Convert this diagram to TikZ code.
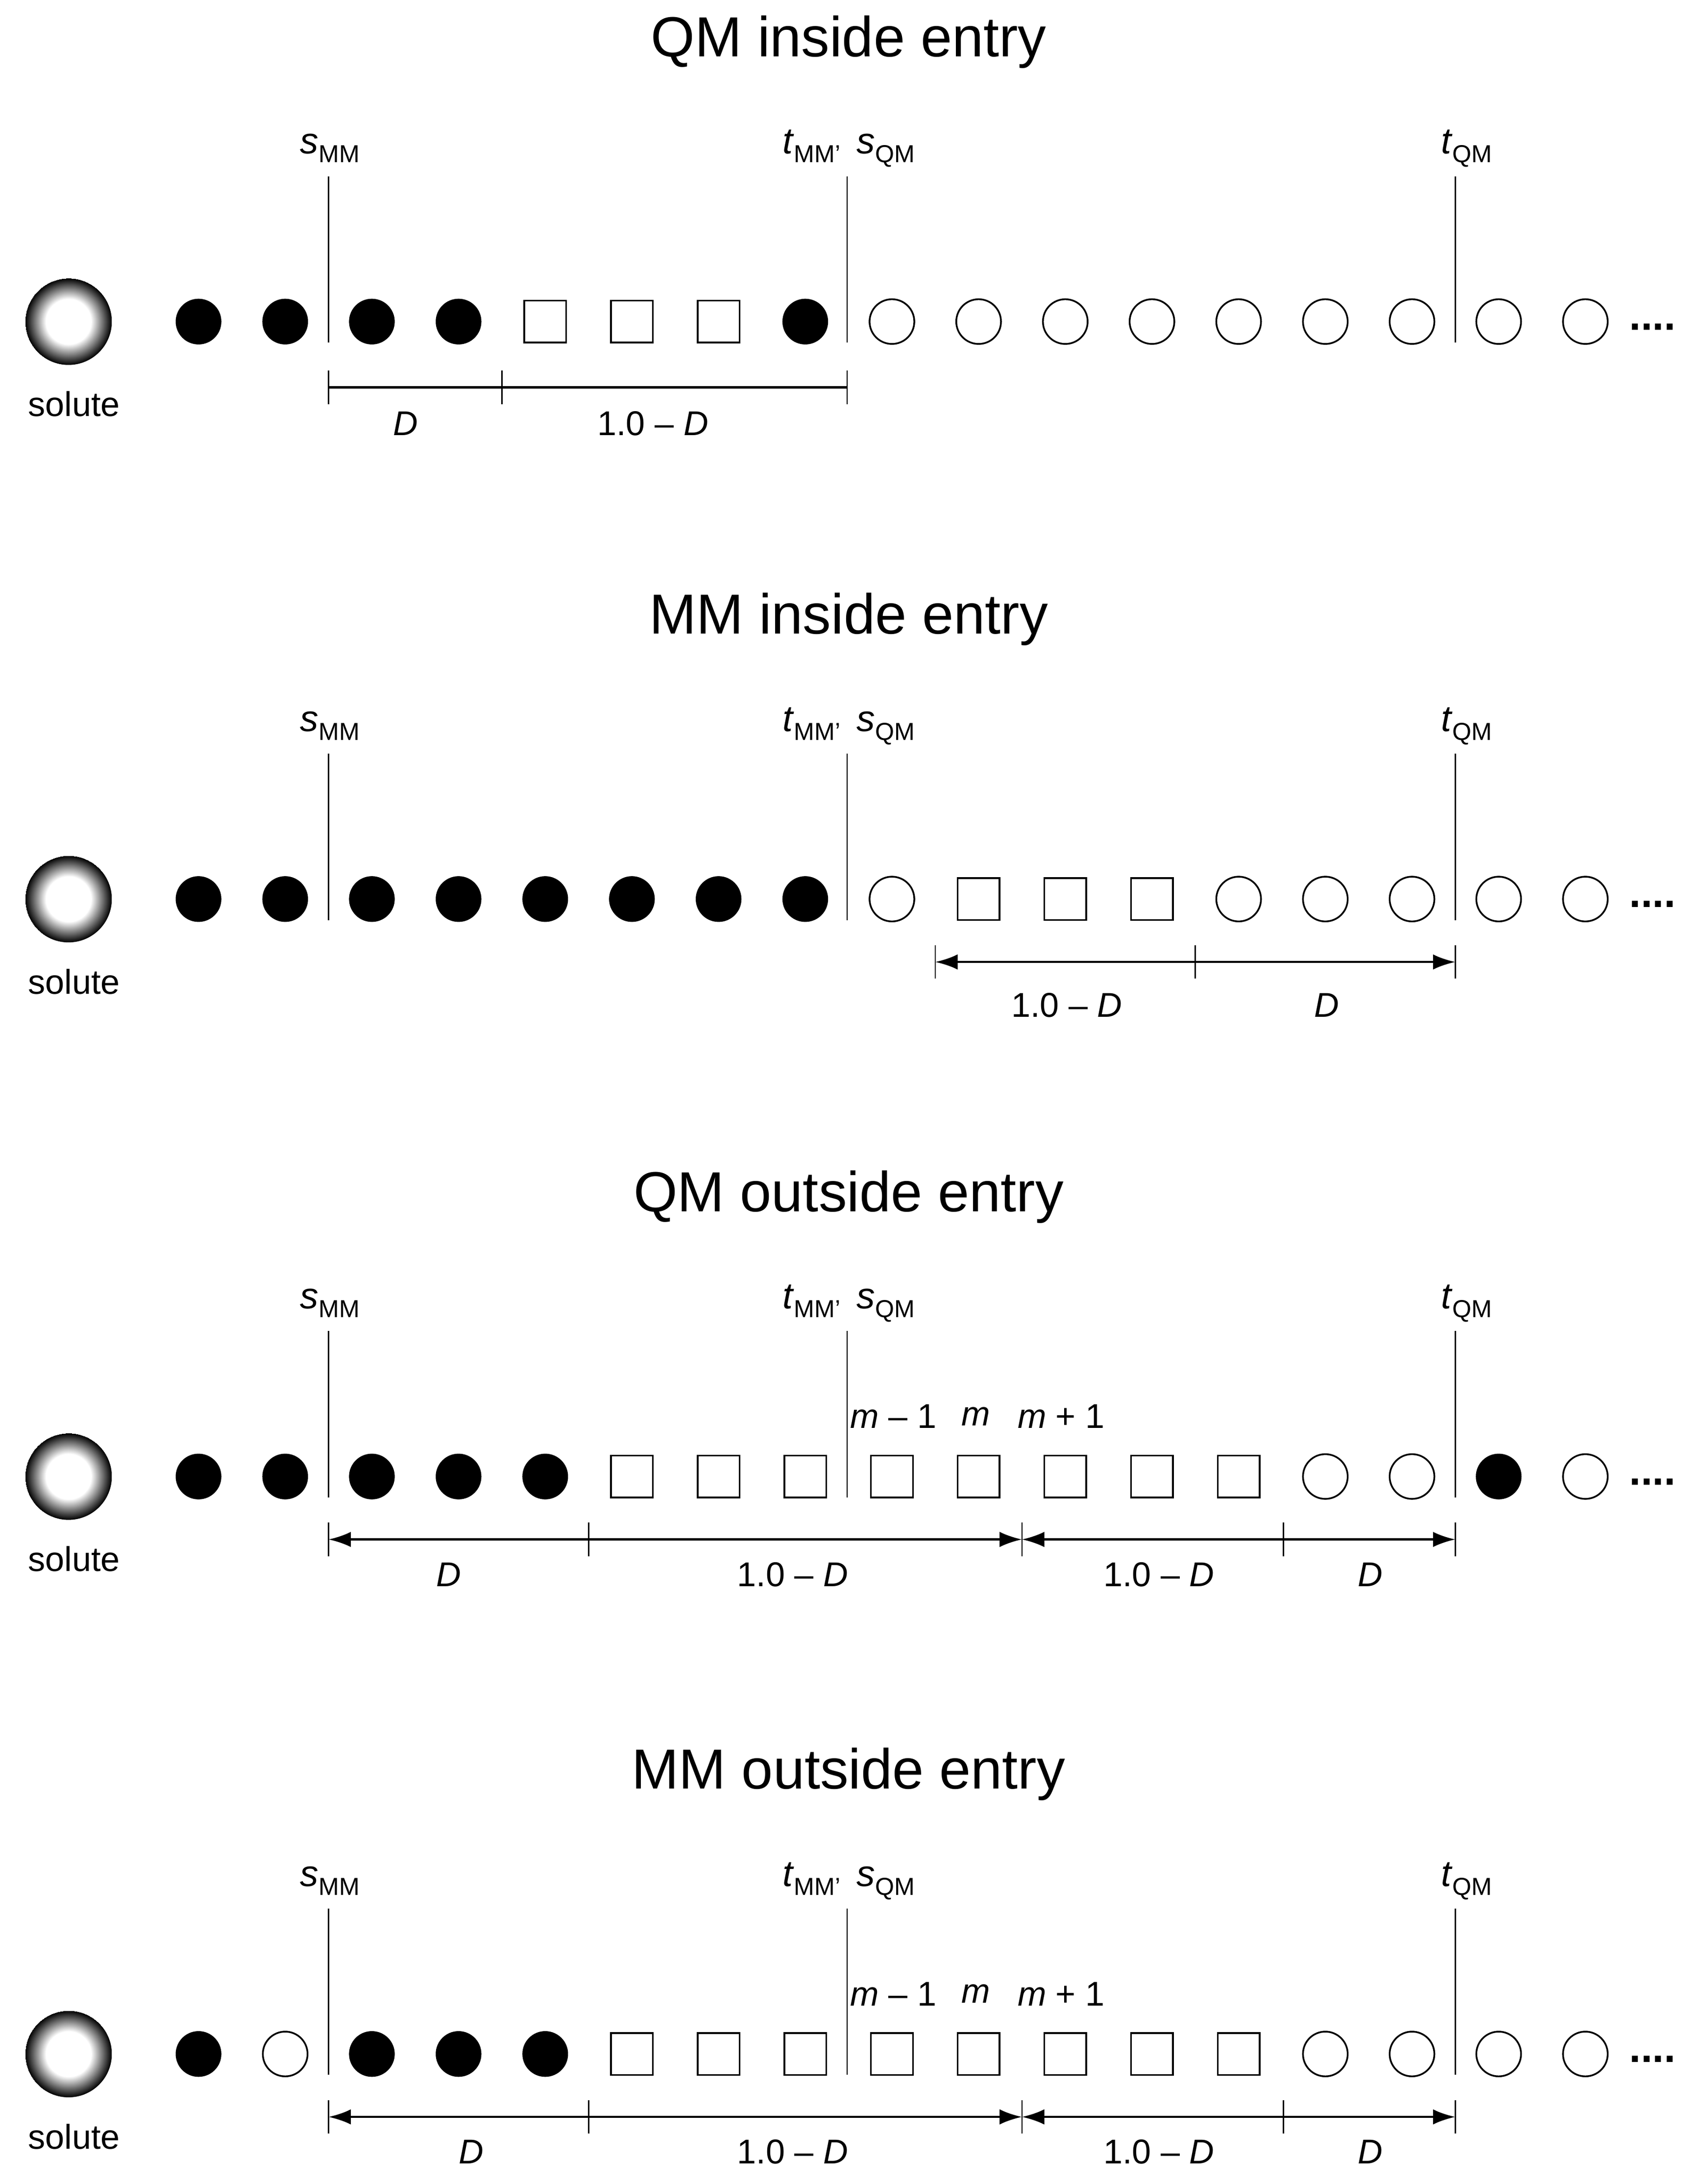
\documentclass[tikz,border=0pt]{standalone}
\usepackage{fontspec}
\setmainfont{Liberation Sans}
\usetikzlibrary{arrows.meta}
\pgfdeclareradialshading{solute}{\pgfpoint{0cm}{0cm}}{color(0bp)=(white);color(13bp)=(white);color(25bp)=(black)}
\begin{document}
\begin{tikzpicture}[x=0.02cm,y=-0.02cm]
  \tikzset{
    F/.style={circle,draw,fill=black,minimum size=0.64cm,inner sep=0pt},
    O/.style={circle,draw,fill=white,minimum size=0.64cm,inner sep=0pt,line width=0.7pt},
    S/.style={rectangle,draw,minimum size=0.6cm,inner sep=0pt,line width=0.7pt},
    ttl/.style={font=\fontsize{23}{28}\selectfont},
    lbl/.style={font=\fontsize{14}{16}\selectfont,inner sep=0pt},
    sub/.style={font=\fontsize{15}{17}\selectfont,anchor=base,inner sep=0pt},
    sep/.style={line width=0.5pt},
    bar/.style={line width=0.9pt},
    tick/.style={line width=0.5pt},
    arr/.style={-{Latex[length=0.32cm,width=0.22cm]}}
  }
  \useasboundingbox (0,0) rectangle (1220,1562);
  \foreach \k/\oy/\ttl/\row in {
      1/0/QM inside entry/{F,F,F,F,S,S,S,F,O,O,O,O,O,O,O,O,O},
      2/413/MM inside entry/{F,F,F,F,F,F,F,F,O,S,S,S,O,O,O,O,O},
      3/826/QM outside entry/{F,F,F,F,F,S,S,S,S,S,S,S,S,O,O,F,O},
      4/1239/MM outside entry/{F,O,F,F,F,S,S,S,S,S,S,S,S,O,O,O,O}} {
    \begin{scope}[shift={(0,\oy)}]
      \node[ttl] (title\k) at (607,30) {\ttl};
      \node[circle,minimum size=1.24cm,inner sep=0pt,shading=solute] (sol\k) at (49,230) {};
      \node[lbl] (solt\k) at (53,289) {solute};
      \foreach [count=\i] \t in \row {
        \node[\t] (r\k-\i) at ({80+62*\i},230) {};
      }
      \node[font=\fontsize{17}{17}\selectfont\bfseries,anchor=base,inner sep=0pt] (dots\k) at (1182,236) {....};
      \node[sub] (smm\k) at (236,110) {\textit{s}\raisebox{-0.45ex}{\fontsize{10}{10}\selectfont MM}};
      \node[sub] (tmm\k) at (607,110) {\textit{t}\raisebox{-0.45ex}{\fontsize{10}{10}\selectfont MM'}\, \textit{s}\raisebox{-0.45ex}{\fontsize{10}{10}\selectfont QM}};
      \node[sub] (tqm\k) at (1049,110) {\textit{t}\raisebox{-0.45ex}{\fontsize{10}{10}\selectfont QM}};
      \coordinate (a\k) at (235,126); \coordinate (b\k) at (235,245);
      \coordinate (c\k) at (606,126); \coordinate (d\k) at (606,245);
      \coordinate (e\k) at (1041,126); \coordinate (f\k) at (1041,245);
      \draw[sep] (a\k) -- (b\k);
      \draw[sep] (c\k) -- (d\k);
      \draw[sep] (e\k) -- (f\k);
    \end{scope}
  }
  % panel 1
  \coordinate (p1a) at (235,277); \coordinate (p1b) at (359,277); \coordinate (p1c) at (606,277);
  \foreach \p in {p1a,p1b,p1c} \draw[tick] ([yshift=0.24cm]\p) -- ([yshift=-0.24cm]\p);
  \draw[bar] (p1a) -- (p1c);
  \node[lbl] (l1a) at (290,303) {\textit{D}};
  \node[lbl] (l1b) at (467,303) {1.0 – \textit{D}};
  % panel 2
  \coordinate (p2a) at (669,688); \coordinate (p2b) at (855,688); \coordinate (p2c) at (1041,688);
  \foreach \p in {p2a,p2b,p2c} \draw[tick] ([yshift=0.24cm]\p) -- ([yshift=-0.24cm]\p);
  \draw[bar,arr] (p2b) -- (p2a);
  \draw[bar,arr] (p2b) -- (p2c);
  \node[lbl] (l2a) at (763,719) {1.0 – \textit{D}};
  \node[lbl] (l2b) at (949,719) {\textit{D}};
  % panels 3 and 4
  \foreach \k/\oy/\xd in {3/826/321,4/1239/337} {
    \begin{scope}[shift={(0,\oy)}]
      \node[lbl] (m\k a) at (639,187) {\textit{m} – 1};
      \node[lbl] (m\k b) at (698,187) {\textit{m}};
      \node[lbl] (m\k c) at (759,187) {\textit{m} + 1};
      \coordinate (q\k a) at (235,275); \coordinate (q\k b) at (421,275);
      \coordinate (q\k c) at (731,275); \coordinate (q\k d) at (918,275);
      \coordinate (q\k e) at (1041,275);
      \foreach \p in {q\k a,q\k b,q\k c,q\k d,q\k e} \draw[tick] ([yshift=0.24cm]\p) -- ([yshift=-0.24cm]\p);
      \draw[bar,arr] (q\k b) -- (q\k a);
      \draw[bar,arr] (q\k b) -- (q\k c);
      \draw[bar,arr] (q\k d) -- (q\k c);
      \draw[bar,arr] (q\k d) -- (q\k e);
      \node[lbl] (n\k a) at (\xd,300) {\textit{D}};
      \node[lbl] (n\k b) at (567,300) {1.0 – \textit{D}};
      \node[lbl] (n\k c) at (829,300) {1.0 – \textit{D}};
      \node[lbl] (n\k d) at (980,300) {\textit{D}};
    \end{scope}
  }
\end{tikzpicture}
\end{document}
